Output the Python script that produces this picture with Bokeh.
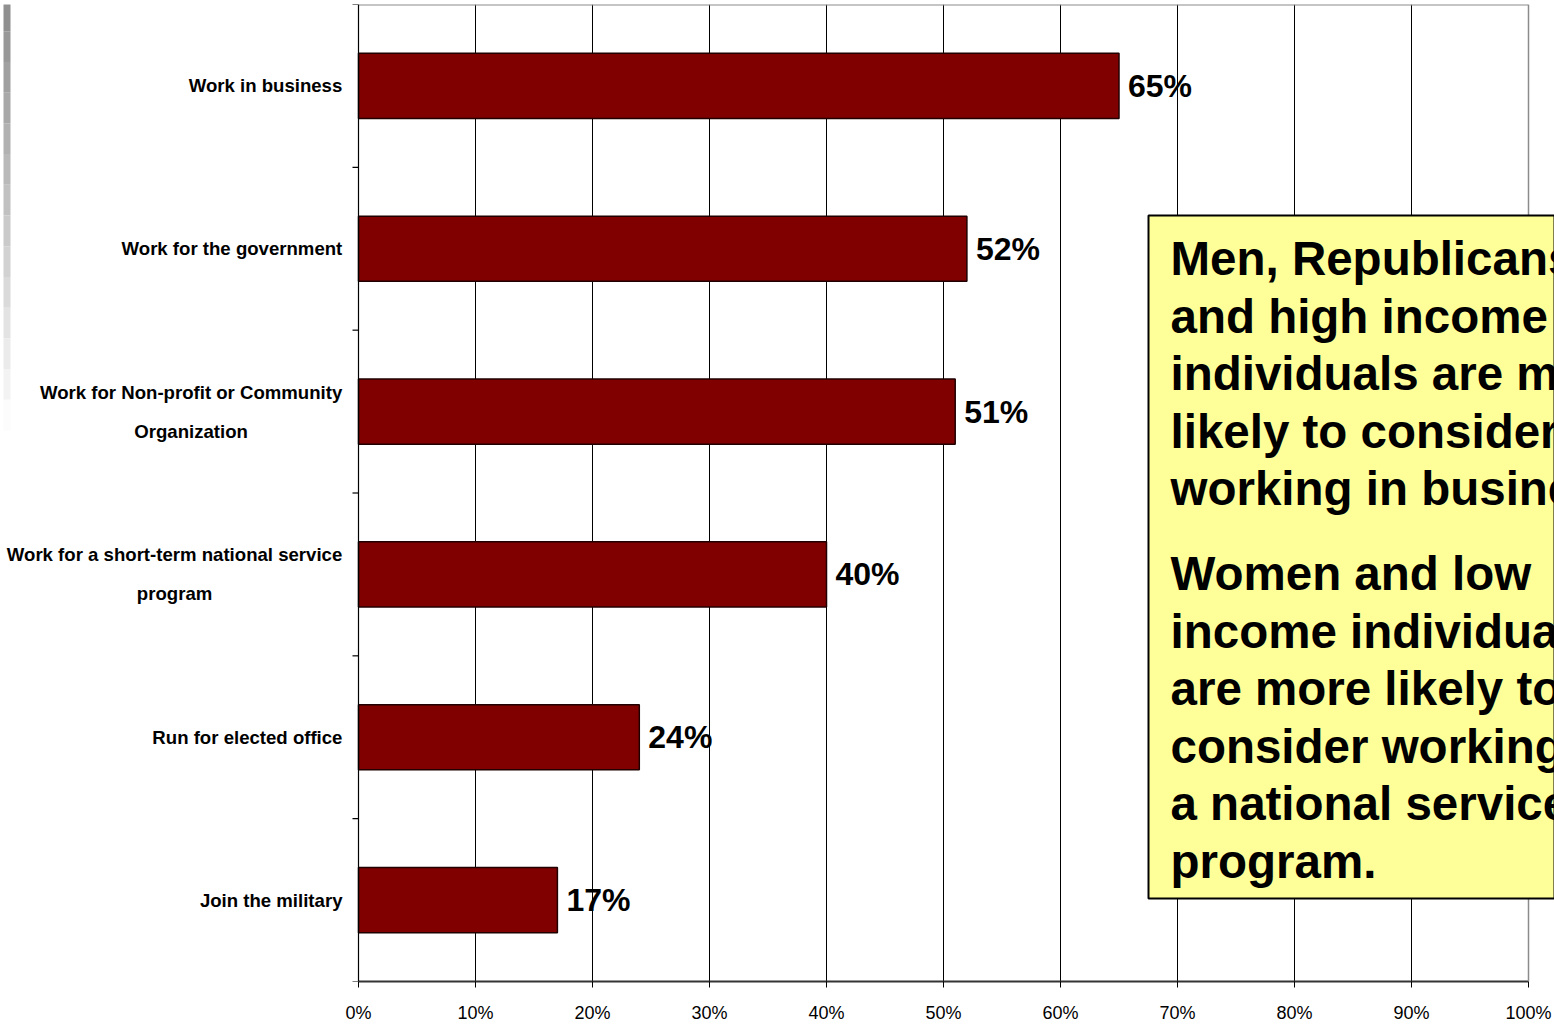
import numpy as np
from bokeh.plotting import figure
from bokeh.models import Range1d, FixedTicker, BoxAnnotation, Label, Span
from bokeh.core.properties import value
from bokeh.embed import file_html
from bokeh.resources import INLINE

# ---- data ----
categories = [
    "Work in business",
    "Work for the government",
    "Work for Non-profit or Community\nOrganization",
    "Work for a short-term national service\nprogram",
    "Run for elected office",
    "Join the military",
]
values = [65, 52, 51, 40, 24, 17]
value_labels = ["65%", "52%", "51%", "40%", "24%", "17%"]
x_ticks = [0, 10, 20, 30, 40, 50, 60, 70, 80, 90, 100]
x_tick_labels = ["0%", "10%", "20%", "30%", "40%", "50%", "60%", "70%", "80%", "90%", "100%"]

note_para1 = [
    "Men, Republicans",
    "and high income",
    "individuals are more",
    "likely to consider",
    "working in business.",
]
note_para2 = [
    "Women and low",
    "income individuals",
    "are more likely to",
    "consider working in",
    "a national service",
    "program.",
]

FONT = "Liberation Sans"
positions = list(range(len(categories)))
boundaries = [i - 0.5 for i in range(len(categories) + 1)]

# ---- layout (pixels) ----
W, H = 1554, 1027
AXIS_X = 358           # pixel column of 0 %
PX_PER_PCT = 11.7
FRAME_TOP, FRAME_BOTTOM = 4, 981
px_per_cat = (FRAME_BOTTOM - FRAME_TOP) / len(categories)

x_start = -AXIS_X / PX_PER_PCT
x_end = (W - AXIS_X) / PX_PER_PCT


def px_to_x(px):
    return (px - AXIS_X) / PX_PER_PCT


def px_to_y(py):
    return (py - FRAME_TOP) / px_per_cat - 0.5


# approximate advance widths (per em) of Liberation Sans Bold, used to centre wrapped lines
BOLD_W = {' ': .278, '-': .333, 'a': .556, 'b': .611, 'c': .556, 'd': .611, 'e': .556, 'f': .333,
          'g': .611, 'h': .611, 'i': .278, 'j': .278, 'k': .556, 'l': .278, 'm': .889, 'n': .611,
          'o': .611, 'p': .611, 'q': .611, 'r': .389, 's': .556, 't': .333, 'u': .611, 'v': .556,
          'w': .778, 'x': .556, 'y': .556, 'z': .5, 'C': .722, 'N': .722, 'O': .778, 'W': .944,
          'R': .722, 'J': .556}


def text_width(s, size):
    return sum(BOLD_W.get(ch, .6) for ch in s) * size


p = figure(
    width=W, height=H,
    x_range=Range1d(x_start, x_end),
    y_range=Range1d(len(categories) - 0.5, -0.5),
    output_backend="svg", toolbar_location=None,
    min_border_left=0, min_border_right=0,
    min_border_top=FRAME_TOP, min_border_bottom=H - FRAME_BOTTOM,
)
p.outline_line_color = None
p.background_fill_color = "white"
p.yaxis.visible = False

# slide-edge gray gradient strip at far left
n_band = 14
band_edges = np.linspace(0, 430, n_band + 1)
band_cols = ["#%02x%02x%02x" % (g, g, g) for g in np.linspace(0x90, 0xfc, n_band).astype(int)]
p.quad(left=px_to_x(3), right=px_to_x(10),
       top=[px_to_y(b) for b in band_edges[:-1]], bottom=[px_to_y(b) for b in band_edges[1:]],
       fill_color=band_cols, line_color=None)

# grid
p.ygrid.grid_line_color = None
p.xgrid.ticker = FixedTicker(ticks=x_ticks[1:-1])
p.xgrid.grid_line_color = "black"
p.xgrid.grid_line_width = 1

# borders (top & right, gray)
p.segment(x0=[0], y0=[-0.5], x1=[100], y1=[-0.5], line_color="#8c8c8c", line_width=2)
p.add_layout(Span(location=100, dimension="height", line_color="#8c8c8c", line_width=1.5))

# value axis line (left) with ticks at category boundaries
p.add_layout(Span(location=0, dimension="height", line_color="black", line_width=1.2))
p.ray(x=[0] * len(boundaries), y=boundaries, length=6, length_units="screen",
      angle=np.pi, line_color="black", line_width=1.2)

# bars
p.hbar(y=positions, left=0, right=values, height=0.4,
       fill_color="#800000", line_color="#200000", line_width=1.5)

# value labels
p.text(x=values, y=positions, text=value_labels, x_offset=9,
       text_align="left", text_baseline="middle",
       text_font=value(FONT), text_font_style="bold", text_font_size="32px",
       text_color="black")

# x axis
xa = p.xaxis[0]
xa.ticker = FixedTicker(ticks=x_ticks)
xa.major_label_overrides = {t: l for t, l in zip(x_ticks, x_tick_labels)}
xa.bounds = (0, 100)
xa.axis_line_color = "#333333"
xa.axis_line_width = 2
xa.major_tick_out = 6
xa.major_tick_in = 0
xa.major_tick_line_color = "black"
xa.minor_tick_line_color = None
xa.major_label_standoff = 15
xa.major_label_text_font = FONT
xa.major_label_text_font_size = "18px"
xa.major_label_text_color = "black"

# category labels: Excel style, wrapped lines centred on each other, block right-aligned
CAT_SIZE = 18.6
STANDOFF = 16
HALF_GAP = 19.5
for pos, cat in zip(positions, categories):
    lines = cat.split("\n")
    widths = [text_width(l, CAT_SIZE) for l in lines]
    block = max(widths)
    centre = -STANDOFF - block / 2
    n = len(lines)
    for k, l in enumerate(lines):
        p.add_layout(Label(x=0, y=pos, x_offset=centre,
                           y_offset=(n - 1) * HALF_GAP - k * 2 * HALF_GAP,
                           text=l, text_align="center", text_baseline="middle",
                           text_font=FONT, text_font_style="bold",
                           text_font_size=f"{CAT_SIZE}px", text_color="black"))

# annotation box
BOX_LEFT = px_to_x(1148)
box = BoxAnnotation(left=BOX_LEFT, top=px_to_y(215), bottom=px_to_y(898),
                    fill_color="#FFFF99", fill_alpha=1.0,
                    line_color="black", line_width=2, line_alpha=1.0)
p.add_layout(box)

line_gap = 57.5
for start, para in ((258, note_para1), (573, note_para2)):
    for k, line in enumerate(para):
        p.add_layout(Label(x=BOX_LEFT, x_offset=22, y=px_to_y(start + k * line_gap), text=line,
                           text_align="left", text_baseline="middle",
                           text_font=FONT, text_font_style="bold",
                           text_font_size="47.5px", text_color="black"))

open("out.html", "w").write(file_html(p, INLINE))
